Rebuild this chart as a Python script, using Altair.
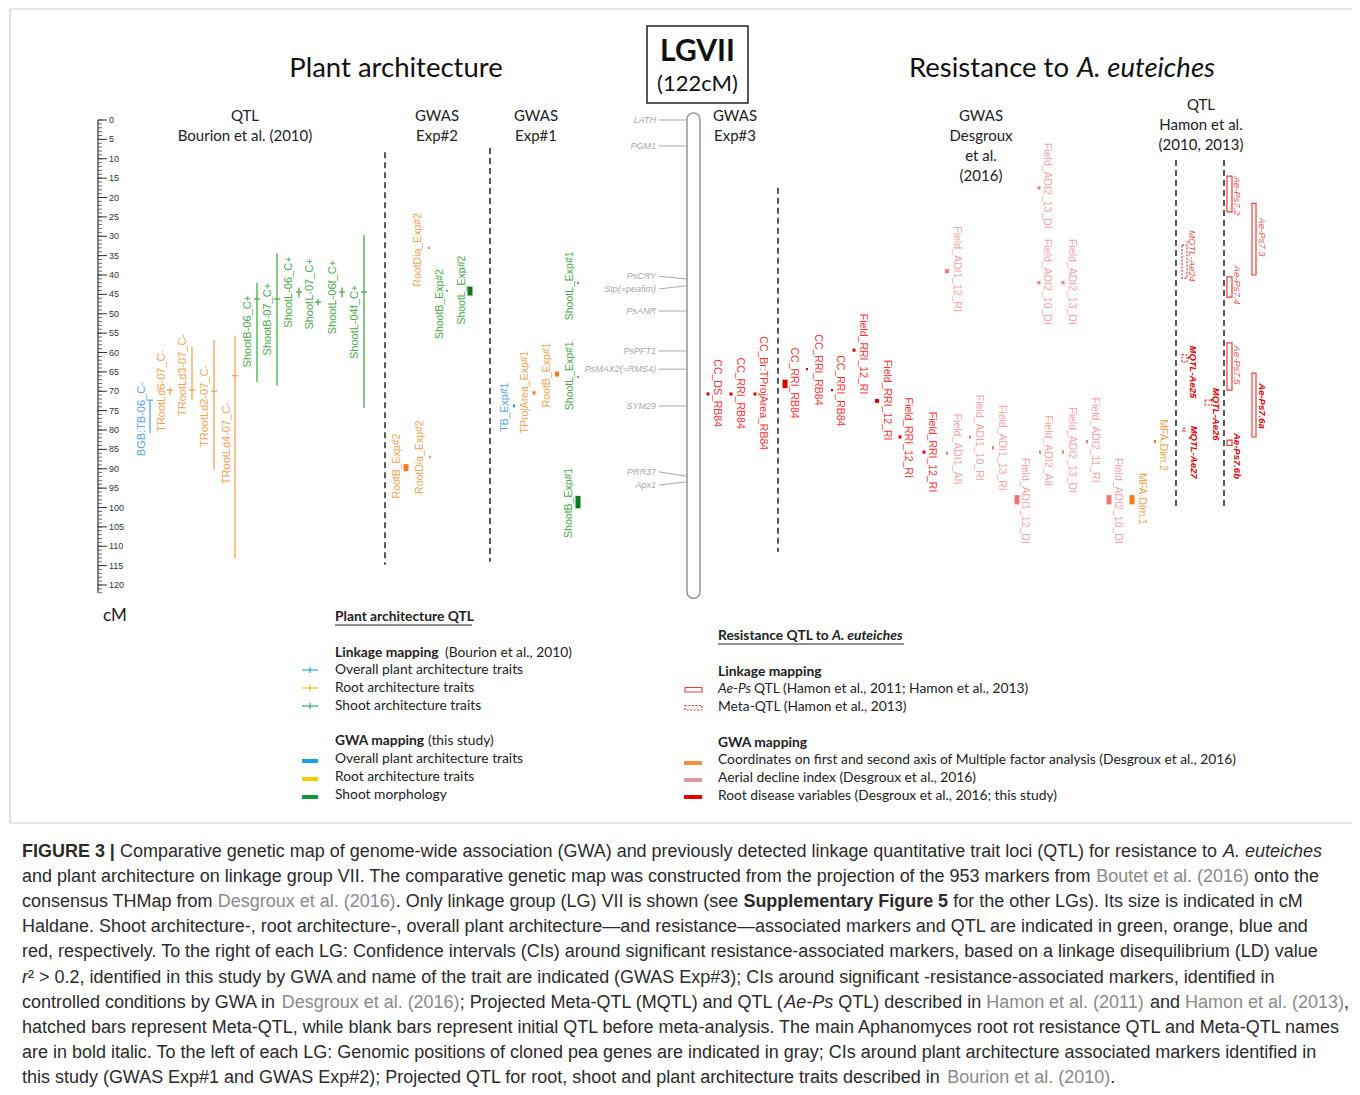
import altair as alt
import pandas as pd

# ====================== chart values ======================
# cM ruler
ruler_ticks = list(range(0, 123))
ruler_labels = list(range(0, 121, 5))
lg_length_cm = 122

# cloned pea genes (gray, left of LG VII)
gene_name = ["LATH", "PGM1", "PsCRY", "Stp(=peafim)", "PsANR", "PsPFT1",
             "PsMAX2(=RMS4)", "SYM29", "PRR37", "Apx1"]
gene_cm = [0.0, 6.7, 41.0, 42.8, 49.3, 59.6, 64.3, 73.8, 91.9, 93.4]
gene_label_cm = [0.0, 6.7, 40.3, 43.6, 49.3, 59.6, 64.3, 73.8, 90.8, 94.2]

# QTL Bourion et al. (2010)
bq_name = ["BGB:TB-06_C-", "TRootLd6-07_C-", "TRootLd3-07_C-", "TRootLd2-07_C-",
           "TRootLd4-07_C-", "ShootB-06_C+", "ShootB-07_C+", "ShootL-06_C+",
           "ShootL-07_C+", "ShootL-06f_C+", "ShootL-04f_C+"]
bq_type = ["overall", "root", "root", "root", "root", "shoot", "shoot", "shoot",
           "shoot", "shoot", "shoot"]
bq_start = [72.3, 69.0, 58.6, 56.8, 55.7, 42.0, 34.4, 43.2, 46.2, 43.2, 29.7]
bq_end = [80.8, 71.0, 72.3, 90.3, 113.0, 67.6, 68.6, 45.8, 47.8, 45.8, 74.3]
bq_peak = [72.3, 69.7, 69.7, 70.0, 66.0, 46.2, 46.2, 44.4, 47.0, 44.4, 44.4]
bq_label_cm = [77.2, 69.9, 65.8, 73.8, 83.4, 54.5, 51.4, 44.4, 44.9, 45.7, 52.1]

# GWAS Exp#2 / Exp#1 (plant architecture, this study)
gw_name = ["RootDia_Exp#2", "ShootB_Exp#2", "ShootL_Exp#2", "RootB_Exp#2",
           "RootDia_Exp#2", "TB_Exp#1", "TProjArea_Exp#1", "RootB_Exp#1",
           "ShootL_Exp#1", "ShootL_Exp#1", "ShootB_Exp#1"]
gw_type = ["root", "shoot", "shoot", "root", "root", "overall", "root", "root",
           "shoot", "shoot", "shoot"]
gw_start = [32.7, 43.8, 43.0, 88.8, 86.7, 73.4, 70.0, 64.9, 41.7, 66.0, 97.0]
gw_end = [33.3, 44.3, 45.3, 90.6, 87.3, 74.1, 70.8, 66.2, 42.3, 66.6, 100.2]
gw_label_cm = [33.5, 47.5, 43.9, 89.3, 87.0, 74.1, 70.2, 65.8, 42.8, 66.0, 98.8]

# GWAS Exp#3 + Desgroux et al. (2016) (resistance)
rs_name = ["CC_DS_RB84", "CC_RRI_RB84", "CC_Br:TProjArea_RB84", "CC_RRI_RB84",
           "CC_RRI_RB84", "CC_RRI_RB84", "Field_RRI_12_RI", "Field_RRI_12_RI",
           "Field_RRI_12_RI", "Field_RRI_12_RI", "Field_ADI1_12_RI",
           "Field_ADI2_13_DI", "Field_ADI2_10_DI", "Field_ADI2_13_DI",
           "Field_ADI1_AII", "Field_ADI1_10_RI", "Field_ADI1_13_RI",
           "Field_ADI1_12_DI", "Field_ADI2_AII", "Field_ADI2_13_DI",
           "Field_ADI2_11_RI", "Field_ADI2_10_DI", "MFA.Dim.1", "MFA.Dim.2"]
rs_type = ["root"] * 10 + ["aerial"] * 12 + ["mfa"] * 2
rs_start = [70.3, 70.3, 70.3, 67.0, 64.0, 69.4, 59.0, 72.0, 81.4, 85.3, 38.5,
            17.1, 41.6, 41.6, 85.6, 81.4, 84.2, 96.8, 85.3, 85.3, 82.6, 96.8,
            96.8, 82.6]
rs_end = [71.1, 71.1, 71.1, 69.2, 64.6, 70.0, 59.8, 73.0, 82.2, 86.1, 39.5,
          17.9, 42.4, 42.4, 86.4, 82.2, 85.0, 99.2, 86.1, 86.1, 83.4, 99.2,
          99.2, 83.4]
rs_label_cm = [70.5, 70.5, 70.5, 67.9, 64.5, 69.9, 60.4, 72.3, 82.0, 85.7, 38.5,
               17.0, 41.8, 41.8, 84.9, 82.0, 84.6, 98.3, 85.4, 85.2, 82.6, 98.3,
               97.8, 83.9]

# QTL Hamon et al. (2010, 2013)
hm_name = ["Ae-Ps7.2", "Ae-Ps7.3", "Ae-Ps7.4", "Ae-Ps7.5", "Ae-Ps7.6a",
           "Ae-Ps7.6b", "MQTL-Ae24", "MQTL-Ae25", "MQTL-Ae26", "MQTL-Ae27"]
hm_kind = ["qtl"] * 6 + ["meta"] * 4
hm_main = [False, False, False, False, True, True, False, True, True, True]
hm_start = [14.5, 21.5, 40.5, 57.5, 65.3, 82.6, 32.3, 60.6, 72.3, 79.6]
hm_end = [23.7, 40.0, 45.7, 69.7, 81.8, 84.0, 40.8, 62.5, 73.5, 80.4]
hm_label_cm = [19.6, 30.2, 42.6, 63.2, 73.8, 86.7, 35.1, 65.0, 75.9, 85.7]

# ====================== layout (pixel columns, styles) ======================
bq_line_x = [150, 170, 192, 214, 235, 257, 277, 299, 318, 342, 364]
bq_label_x = [142, 162, 183, 205, 227, 248, 268, 289, 310, 333, 355]
gw_mark_x = [429, 447, 470, 406, 430, 514, 534, 557, 578, 578, 578]
gw_mark_w = [1.6, 1.6, 5, 5, 1.6, 2, 3, 4, 1.6, 1.6, 5]
gw_label_x = [418, 440, 462, 397, 420, 505, 525, 547, 570, 570, 569]
rs_mark_x = [708, 731, 755, 785, 807, 832, 854, 877, 900, 924, 947, 1039, 1039,
             1063, 947, 970, 993, 1017, 1040, 1063, 1087, 1109, 1132, 1155]
rs_mark_w = [3, 3, 3, 5, 2, 2, 3, 4, 3, 3, 4, 3, 3, 3, 2, 2, 2, 5, 2, 2, 2, 5, 5, 2]
rs_label_x = [717, 740, 763, 794, 818, 840, 863, 887, 908, 932, 957, 1047, 1047,
              1072, 957, 979, 1002, 1025, 1048, 1072, 1095, 1118, 1142, 1163]
hm_box_x = [1227, 1252, 1227, 1227, 1252, 1227, 1182, 1182, 1205, 1183]
hm_box_w = [5, 4, 5, 5, 4, 5, 5, 5, 7, 2]
hm_label_x = [1237, 1262, 1237, 1237, 1262, 1237, 1192, 1193, 1216, 1194]

LBL = {"overall": "#58a6ea", "root": "#f7a24d", "shoot": "#47ab47"}
GWM = {"overall": "#1f8fe0", "root": "#f57a1c", "shoot": "#3aa845"}
RSL = {"root": "#ff3030", "aerial": "#f6a3a3", "mfa": "#f5a040"}
RSM = {"root": "#e00000", "aerial": "#f07878", "mfa": "#f57a1c"}

SANS = "Liberation Sans"
HUM = "Lato"
LEG_FS = 13.8
PX_PER_CM = 3.875
CM0_PX = 120.0


def P(ypx):
    """page pixel row -> value on the cM scale (for annotation text only)"""
    return (ypx - CM0_PX) / PX_PER_CM


XS = alt.Scale(domain=[8, 1352], nice=False, zero=False)
YS = alt.Scale(domain=[P(8), P(1087)], reverse=True, nice=False, zero=False)
XE = alt.X("x:Q", scale=XS, axis=None)
YE = alt.Y("y:Q", scale=YS, axis=None)


def T(rows, size, font=SANS, angle=0, align="left", baseline="middle",
      weight="normal", style="normal"):
    df = pd.DataFrame(rows, columns=["x", "y", "t", "c"])
    return alt.Chart(df).mark_text(
        font=font, fontSize=size, angle=angle, align=align, baseline=baseline,
        fontWeight=weight, fontStyle=style
    ).encode(x=XE, y=YE, text=alt.Text("t:N"), color=alt.Color("c:N", scale=None))


def R(rows, width=1.0, dash=None):
    df = pd.DataFrame(rows, columns=["x", "x2", "y", "y2", "c"])
    kw = dict(strokeWidth=width)
    if dash:
        kw["strokeDash"] = dash
    return alt.Chart(df).mark_rule(**kw).encode(
        x=XE, x2=alt.X2("x2"), y=YE, y2=alt.Y2("y2"),
        color=alt.Color("c:N", scale=None))


def BX(rows, filled=True, width=1.0, dash=None):
    df = pd.DataFrame(rows, columns=["x", "x2", "y", "y2", "c"])
    kw = dict(filled=filled, strokeWidth=width)
    if dash:
        kw["strokeDash"] = dash
    return alt.Chart(df).mark_rect(**kw).encode(
        x=XE, x2=alt.X2("x2"), y=YE, y2=alt.Y2("y2"),
        color=alt.Color("c:N", scale=None))


layers = []

# frame
layers.append(alt.Chart(pd.DataFrame([[10, 1354, P(9), P(823)]], columns=["x", "x2", "y", "y2"]))
              .mark_rect(fill="white", stroke="#cfcfcf", strokeWidth=1.2)
              .encode(x=XE, x2=alt.X2("x2"), y=YE, y2=alt.Y2("y2")))

# titles
layers.append(T([[396, P(69), "Plant architecture", "#111"]], 27.5, HUM, align="center"))
layers.append(T([[909, P(69), "Resistance to", "#111"]], 27.5, HUM))
layers.append(T([[1077, P(69), "A. euteiches", "#111"]], 27.5, HUM, style="italic"))

# LGVII box
layers.append(alt.Chart(pd.DataFrame([[647, 748, P(26), P(103)]], columns=["x", "x2", "y", "y2"]))
              .mark_rect(fill="white", stroke="#222", strokeWidth=1.5)
              .encode(x=XE, x2=alt.X2("x2"), y=YE, y2=alt.Y2("y2")))
layers.append(T([[697.5, P(52), "LGVII", "#111"]], 30, HUM, align="center", weight="bold"))
layers.append(T([[697.5, P(84), f"({lg_length_cm}cM)", "#111"]], 22, HUM, align="center"))

# column headers
hdr = [[245, 116, "QTL"], [245, 136, "Bourion et al. (2010)"],
       [437, 116, "GWAS"], [437, 136, "Exp#2"],
       [536, 116, "GWAS"], [536, 136, "Exp#1"],
       [735, 116, "GWAS"], [735, 136, "Exp#3"],
       [981, 116, "GWAS"], [981, 136, "Desgroux"], [981, 156, "et al."], [981, 176, "(2016)"],
       [1201, 105, "QTL"], [1201, 125, "Hamon et al."], [1201, 145, "(2010, 2013)"]]
layers.append(T([[x, P(y), t, "#222"] for x, y, t in hdr], 15, HUM, align="center"))

# dashed separators
dsh = [[385, 8.3, 114.8], [490, 7.2, 114.0], [778, 17.5, 111.5],
       [1176, 10.3, 100.1], [1224, 10.3, 100.1]]
layers.append(R([[x, x, a, b, "#222"] for x, a, b in dsh], 1.5, [6, 4]))

# cM ruler
layers.append(R([[98, 98, 0, max(ruler_ticks), "#333"]], 1.2))
layers.append(R([[98, 102, v, v, "#444"] for v in ruler_ticks], 0.8))
layers.append(R([[98, 107, v, v, "#333"] for v in ruler_labels], 1.0))
layers.append(T([[109, v, str(v), "#333"] for v in ruler_labels], 9))
layers.append(T([[115, P(616), "cM", "#222"]], 17, HUM, align="center"))

# chromosome
layers.append(alt.Chart(pd.DataFrame([[687, 700, -1.8, lg_length_cm + 1.4]],
                                     columns=["x", "x2", "y", "y2"]))
              .mark_rect(fill="white", stroke="#9a9a9a", strokeWidth=1.6, cornerRadius=6)
              .encode(x=XE, x2=alt.X2("x2"), y=YE, y2=alt.Y2("y2")))

# genes
layers.append(R([[659, 686, lc, c, "#a8a8a8"] for c, lc in zip(gene_cm, gene_label_cm)], 1.0))
layers.append(T([[656, lc, n, "#a8a8a8"] for n, lc in zip(gene_name, gene_label_cm)],
                9, align="right", style="italic"))

# Bourion QTL
layers.append(R([[x, x, s, e, LBL[t]] for x, s, e, t in zip(bq_line_x, bq_start, bq_end, bq_type)], 1.3))
layers.append(R([[x - 3, x + 3, p, p, LBL[t]] for x, p, t in zip(bq_line_x, bq_peak, bq_type)], 1.3))
layers.append(T([[x, c, n, LBL[t]] for x, c, n, t in zip(bq_label_x, bq_label_cm, bq_name, bq_type)],
                11, angle=270, align="center"))

# GWAS Exp#1 / Exp#2
gw_rows = []
for x, w, s, e, t in zip(gw_mark_x, gw_mark_w, gw_start, gw_end, gw_type):
    col = "#0b7a1c" if (t == "shoot" and w >= 5) else GWM[t]
    gw_rows.append([x - w / 2, x + w / 2, s, e, col])
layers.append(BX(gw_rows))
layers.append(T([[x, c, n, LBL[t]] for x, c, n, t in zip(gw_label_x, gw_label_cm, gw_name, gw_type)],
                10.5, angle=270, align="center"))

# GWAS Exp#3 + Desgroux
layers.append(BX([[x - w / 2, x + w / 2, s, e, RSM[t]]
                  for x, w, s, e, t in zip(rs_mark_x, rs_mark_w, rs_start, rs_end, rs_type)]))
layers.append(T([[x, c, n, RSL[t]] for x, c, n, t in zip(rs_label_x, rs_label_cm, rs_name, rs_type)],
                10.5, angle=90, align="center"))

# Hamon QTL
qtl_rows = [[x, x + w, s, e, "#f03a3a"] for x, w, s, e, k in
            zip(hm_box_x, hm_box_w, hm_start, hm_end, hm_kind) if k == "qtl"]
meta_rows = [[x, x + w, s, e, "#f03a3a"] for x, w, s, e, k in
             zip(hm_box_x, hm_box_w, hm_start, hm_end, hm_kind) if k == "meta"]
layers.append(BX(qtl_rows, filled=False, width=1.2))
layers.append(BX(meta_rows, filled=False, width=1.2, dash=[2, 1.5]))
layers.append(T([[x, c, n, "#f25555"] for x, c, n, m in zip(hm_label_x, hm_label_cm, hm_name, hm_main) if not m],
                9.5, angle=90, align="center", style="italic"))
layers.append(T([[x, c, n, "#e80000"] for x, c, n, m in zip(hm_label_x, hm_label_cm, hm_name, hm_main) if m],
                9.5, angle=90, align="center", style="italic", weight="bold"))

# ---------------- legends ----------------
layers.append(T([[335, P(617), "Plant architecture QTL", "#222"]], LEG_FS, HUM, weight="bold"))
layers.append(R([[335, 472, P(625), P(625), "#222"]], 1.0))
layers.append(T([[335, P(653), "Linkage mapping", "#222"], [335, P(741), "GWA mapping", "#222"]],
                LEG_FS, HUM, weight="bold"))
layers.append(T([[445, P(653), "(Bourion et al., 2010)", "#222"], [428, P(741), "(this study)", "#222"]],
                LEG_FS, HUM))
leg_left = [[670, "Overall plant architecture traits"], [688, "Root architecture traits"],
            [706, "Shoot architecture traits"], [759, "Overall plant architecture traits"],
            [777, "Root architecture traits"], [795, "Shoot morphology"]]
layers.append(T([[335, P(y), t, "#222"] for y, t in leg_left], LEG_FS, HUM))
cross_col = ["#29a8e0", "#f0c020", "#2fae63"]
layers.append(R([[302, 318, P(y), P(y), c] for y, c in zip([670, 688, 706], cross_col)], 1.2))
layers.append(R([[310, 310, P(y - 3), P(y + 3), c] for y, c in zip([670, 688, 706], cross_col)], 1.2))
bar_col = ["#1aa3e8", "#f7c900", "#0a9a3c"]
layers.append(BX([[302, 318, P(y - 2), P(y + 2), c] for y, c in zip([761, 779, 797], bar_col)]))

layers.append(T([[718, P(636), "Resistance QTL to", "#222"]], LEG_FS, HUM, weight="bold"))
layers.append(T([[832, P(636), "A. euteiches", "#222"]], LEG_FS, HUM, weight="bold", style="italic"))
layers.append(R([[718, 904, P(644), P(644), "#222"]], 1.0))
layers.append(T([[718, P(672), "Linkage mapping", "#222"], [718, P(743), "GWA mapping", "#222"]],
                LEG_FS, HUM, weight="bold"))
layers.append(T([[718, P(689), "Ae-Ps", "#222"]], LEG_FS, HUM, style="italic"))
leg_right = [[754, 689, "QTL (Hamon et al., 2011; Hamon et al., 2013)"],
             [718, 707, "Meta-QTL (Hamon et al., 2013)"],
             [718, 760, "Coordinates on first and second axis of Multiple factor analysis (Desgroux et al., 2016)"],
             [718, 778, "Aerial decline index (Desgroux et al., 2016)"],
             [718, 796, "Root disease variables (Desgroux et al., 2016; this study)"]]
layers.append(T([[x, P(y), t, "#222"] for x, y, t in leg_right], LEG_FS, HUM))
layers.append(BX([[685, 702, P(687.5), P(692), "#f03a3a"]], filled=False, width=1.2))
layers.append(BX([[685, 702, P(705.5), P(710), "#f03a3a"]], filled=False, width=1.2, dash=[2, 1.5]))
layers.append(BX([[684, 702, P(y - 2), P(y + 2), c] for y, c in
                  zip([763, 780, 797], ["#f39040", "#d99a9a", "#e60000"])]))

# ---------------- caption ----------------
_chars = " !\"#$%&'()*+,-./0123456789:;<=>?@ABCDEFGHIJKLMNOPQRSTUVWXYZ[\\]^_`abcdefghijklmnopqrstuvwxyz{|}~"
_reg = [278, 278, 355, 556, 556, 889, 667, 191, 333, 333, 389, 584, 278, 333, 278, 278,
        556, 556, 556, 556, 556, 556, 556, 556, 556, 556,
        278, 278, 584, 584, 584, 556, 1015,
        667, 667, 722, 722, 667, 611, 778, 722, 278, 500, 667, 556, 833, 722, 778, 667, 778,
        722, 667, 611, 722, 667, 944, 667, 667, 611,
        278, 278, 278, 469, 556, 333,
        556, 556, 500, 556, 556, 278, 556, 556, 222, 222, 500, 222, 833, 556, 556, 556, 556,
        333, 500, 278, 556, 500, 722, 500, 500, 500,
        334, 260, 334, 584]
_bold = [278, 333, 474, 556, 556, 889, 722, 238, 333, 333, 389, 584, 278, 333, 278, 278,
         556, 556, 556, 556, 556, 556, 556, 556, 556, 556,
         333, 333, 584, 584, 584, 611, 975,
         722, 722, 722, 722, 667, 611, 778, 722, 278, 556, 722, 611, 833, 722, 778, 667, 778,
         722, 667, 611, 722, 667, 944, 667, 667, 611,
         333, 278, 333, 584, 556, 333,
         556, 611, 556, 611, 556, 333, 611, 611, 278, 278, 556, 278, 889, 611, 611, 611, 611,
         389, 556, 333, 611, 556, 778, 556, 556, 500,
         389, 280, 389, 584]
WREG = dict(zip(_chars, _reg))
WBOLD = dict(zip(_chars, _bold))
WREG.update({"\u2014": 1000, "\u00b2": 333})
WBOLD.update({"\u2014": 1000, "\u00b2": 333})


def units(s, bold=False):
    tb = WBOLD if bold else WREG
    return sum(tb.get(ch, 556) for ch in s)


cap_lines = [
    [("FIGURE 3 |", "b"), (" Comparative genetic map of genome-wide association (GWA) and previously detected linkage quantitative trait loci (QTL) for resistance to ", "n"), ("A. euteiches", "i")],
    [("and plant architecture on linkage group VII. The comparative genetic map was constructed from the projection of the 953 markers from ", "n"), ("Boutet et al. (2016)", "g"), (" onto the", "n")],
    [("consensus THMap from ", "n"), ("Desgroux et al. (2016)", "g"), (". Only linkage group (LG) VII is shown (see ", "n"), ("Supplementary Figure 5", "b"), (" for the other LGs). Its size is indicated in cM", "n")],
    [("Haldane. Shoot architecture-, root architecture-, overall plant architecture\u2014and resistance\u2014associated markers and QTL are indicated in green, orange, blue and", "n")],
    [("red, respectively. To the right of each LG: Confidence intervals (CIs) around significant resistance-associated markers, based on a linkage disequilibrium (LD) value", "n")],
    [("r", "i"), ("\u00b2 > 0.2, identified in this study by GWA and name of the trait are indicated (GWAS Exp#3); CIs around significant -resistance-associated markers, identified in", "n")],
    [("controlled conditions by GWA in ", "n"), ("Desgroux et al. (2016)", "g"), ("; Projected Meta-QTL (MQTL) and QTL (", "n"), ("Ae-Ps", "i"), (" QTL) described in ", "n"), ("Hamon et al. (2011)", "g"), (" and ", "n"), ("Hamon et al. (2013)", "g"), (",", "n")],
    [("hatched bars represent Meta-QTL, while blank bars represent initial QTL before meta-analysis. The main Aphanomyces root rot resistance QTL and Meta-QTL names", "n")],
    [("are in bold italic. To the left of each LG: Genomic positions of cloned pea genes are indicated in gray; CIs around plant architecture associated markers identified in", "n")],
    [("this study (GWAS Exp#1 and GWAS Exp#2); Projected QTL for root, shoot and plant architecture traits described in ", "n"), ("Bourion et al. (2010)", "g"), (".", "n")],
]
CAP_X0, CAP_X1, CAP_Y0, CAP_DY = 22, 1322, 852, 25.1
FS_CAP = (CAP_X1 - CAP_X0) * 1000.0 / sum(units(s, st == "b") for s, st in cap_lines[0])

cap_rows = {"n": [], "b": [], "i": [], "g": []}
for li, segs in enumerate(cap_lines):
    xpos = CAP_X0
    for s, st in segs:
        lead = len(s) - len(s.lstrip(" "))
        xs = xpos + units(s[:lead], st == "b") * FS_CAP / 1000.0
        col = "#8a8a8a" if st == "g" else "#2b2b2b"
        cap_rows[st].append([xs, P(CAP_Y0 + li * CAP_DY), s.strip(" "), col])
        xpos += units(s, st == "b") * FS_CAP / 1000.0

layers.append(T(cap_rows["n"] + cap_rows["g"], FS_CAP))
layers.append(T(cap_rows["b"], FS_CAP, weight="bold"))
layers.append(T(cap_rows["i"], FS_CAP, style="italic"))

chart = alt.layer(*layers).properties(
    width=1344, height=1079, padding=0,
    autosize=alt.AutoSizeParams(type="none"),
    background="white",
).configure_view(stroke=None)

chart.save("out.html", embed_options={"renderer": "svg", "actions": False})
